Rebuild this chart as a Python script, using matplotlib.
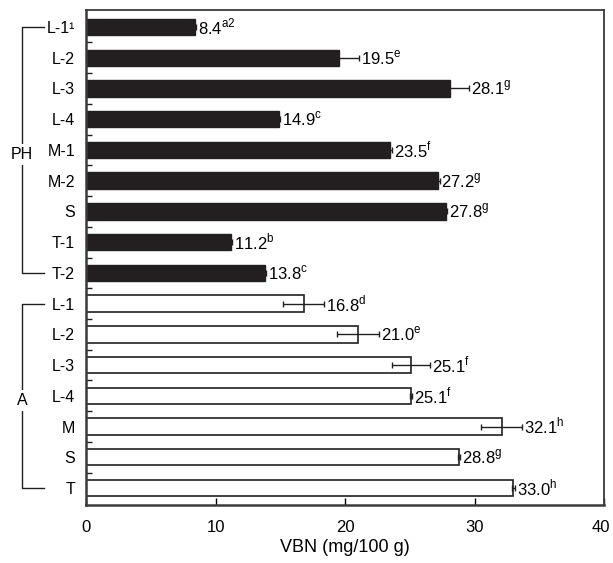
import matplotlib as mpl
import matplotlib.pyplot as plt
import matplotlib.transforms as mtransforms
import numpy as np

mpl.rc('font', family='Liberation Sans')
mpl.rcParams['mathtext.fontset'] = 'custom'
mpl.rcParams['mathtext.rm'] = 'Liberation Sans'

# PH group
ph_labels = ['L-1\u00b9', 'L-2', 'L-3', 'L-4', 'M-1', 'M-2', 'S', 'T-1', 'T-2']
ph_vals = [8.4, 19.5, 28.1, 14.9, 23.5, 27.2, 27.8, 11.2, 13.8]
ph_err = [0.1, 1.6, 1.5, 0.1, 0.1, 0.1, 0.1, 0.1, 0.1]
ph_sup = ['a2', 'e', 'g', 'c', 'f', 'g', 'g', 'b', 'c']

# A group
a_labels = ['L-1', 'L-2', 'L-3', 'L-4', 'M', 'S', 'T']
a_vals = [16.8, 21.0, 25.1, 25.1, 32.1, 28.8, 33.0]
a_err = [1.6, 1.6, 1.5, 0.1, 1.6, 0.1, 0.1]
a_sup = ['d', 'e', 'f', 'f', 'h', 'g', 'h']

fig = plt.figure(figsize=(6.13, 5.63), dpi=100)
ax = fig.add_axes([86/613, 58/563, 518/613, 495/563])

y_ph = np.arange(len(ph_vals))
y_a = np.arange(len(a_vals)) + len(ph_vals)

ax.barh(y_ph, ph_vals, height=0.53, color='#231f20', edgecolor='#231f20', lw=1)
ax.barh(y_a, a_vals, height=0.53, color='white', edgecolor='#231f20', lw=1.2)
ax.errorbar(ph_vals, y_ph, xerr=ph_err, fmt='none', ecolor='#231f20', elinewidth=1, capsize=2)
ax.errorbar(a_vals, y_a, xerr=a_err, fmt='none', ecolor='#231f20', elinewidth=1, capsize=2)

for y, v, e, s in zip(list(y_ph) + list(y_a), ph_vals + a_vals, ph_err + a_err, ph_sup + a_sup):
    ax.text(v + e + 0.15, y, f"{v:.1f}" + r"$^{\rm " + s + "}$", va='center', ha='left', fontsize=12)

ax.set_yticks(list(y_ph) + list(y_a))
ax.set_yticklabels(ph_labels + a_labels, fontsize=11.5)
ax.tick_params(axis='y', which='major', length=0, pad=8)
ax.set_yticks(np.arange(0.5, 15.5, 1), minor=True)
ax.tick_params(axis='y', which='minor', direction='in', length=4, width=1, color='#231f20')
ax.set_ylim(15.55, -0.55)

ax.set_xlim(0, 40)
ax.set_xticks([0, 10, 20, 30, 40])
ax.tick_params(axis='x', direction='in', length=5, width=1, pad=11, labelsize=12)
ax.set_xlabel('VBN (mg/100 g)', fontsize=13, labelpad=3)
# nudge the last tick label so it stays inside the figure
last = ax.get_xticklabels()[-1]
last.set_transform(last.get_transform() + mtransforms.ScaledTranslation(-2/72, 0, fig.dpi_scale_trans))

for sp in ax.spines.values():
    sp.set_color('#3a3a3a')
    sp.set_linewidth(1.3)
ax.spines['left'].set_linewidth(1.8)
ax.spines['bottom'].set_linewidth(1.8)

# group brackets
tr = ax.get_yaxis_transform()
for name, ys in [('PH', y_ph), ('A', y_a)]:
    top, bot = ys[0], ys[-1]
    xl, xr = -0.123, -0.082
    ax.plot([xr, xl, xl, xr], [top, top, bot, bot], color='#231f20', lw=1,
            transform=tr, clip_on=False)
    ax.text(xl, (top + bot) / 2 + 0.15, name, ha='center', va='center', fontsize=11.5,
            transform=tr, bbox=dict(facecolor='white', edgecolor='none', pad=2))

fig.savefig('out.png', dpi=100)
